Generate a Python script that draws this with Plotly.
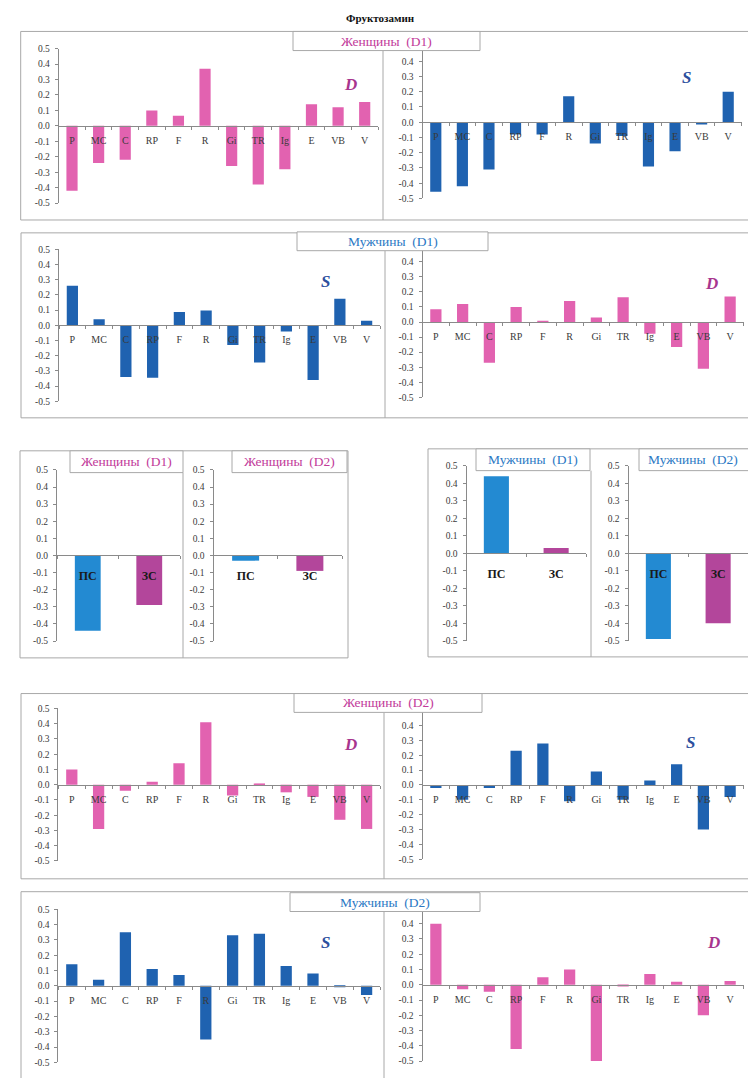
import plotly.graph_objects as go

W, H = 748, 1078

# ---- data -------------------------------------------------------------
categories = ["P", "MC", "C", "RP", "F", "R", "Gi", "TR", "Ig", "E", "VB", "V"]
groups = ["ПС", "ЗС"]

women_d1_D = [-0.42, -0.24, -0.22, 0.10, 0.065, 0.37, -0.26, -0.38, -0.28, 0.14, 0.12, 0.155]
women_d1_S = [-0.455, -0.42, -0.31, -0.08, -0.08, 0.17, -0.14, -0.09, -0.29, -0.19, -0.015, 0.20]
men_d1_S = [0.26, 0.04, -0.34, -0.345, 0.088, 0.098, -0.13, -0.245, -0.04, -0.36, 0.175, 0.03]
men_d1_D = [0.085, 0.12, -0.27, 0.10, 0.005, 0.14, 0.03, 0.165, -0.077, -0.165, -0.31, 0.17]
women_d2_D = [0.10, -0.29, -0.04, 0.02, 0.14, 0.41, -0.07, 0.005, -0.05, -0.08, -0.23, -0.29]
women_d2_S = [-0.02, -0.10, -0.02, 0.23, 0.28, -0.11, 0.09, -0.10, 0.03, 0.14, -0.30, -0.08]
men_d2_S = [0.14, 0.04, 0.35, 0.11, 0.07, -0.35, 0.33, 0.34, 0.13, 0.08, -0.01, -0.06]
men_d2_D = [0.40, -0.03, -0.045, -0.42, 0.05, 0.10, -0.51, -0.005, 0.07, 0.02, -0.20, 0.025]

women_d1_groups = [-0.44, -0.29]
women_d2_groups = [-0.03, -0.09]
men_d1_groups = [0.44, 0.03]
men_d2_groups = [-0.49, -0.40]

y_ticks = [0.5, 0.4, 0.3, 0.2, 0.1, 0.0, -0.1, -0.2, -0.3, -0.4, -0.5]
y_tick_text = ["0.5", "0.4", "0.3", "0.2", "0.1", "0.0", "-0.1", "-0.2", "-0.3", "-0.4", "-0.5"]

# ---- styling ------------------------------------------------------------
PINK = "#e262b0"
BLUE = "#1f62b0"
PS_BLUE = "#238ad2"
ZS_PURPLE = "#b3469b"
WOMEN_TXT = "#c23a9a"
MEN_TXT = "#2a78c4"
D_TXT = "#a8358e"
S_TXT = "#2c4f9e"
FRAME = "#a8a8a8"
AXIS = "#8a8a8a"
SERIF = "Liberation Serif"


def px_x(v):
    return v / W


def px_y(v):
    return 1 - v / H


# (categories, values, colours, x0, x1, y at +0.5, y at -0.5, show top tick, grouped panel)
panels = [
    (categories, women_d1_D, PINK, 58.7, 378.0, 44.0, 200.0, True, False),
    (categories, women_d1_S, BLUE, 422.5, 741.5, 41.3, 195.3, False, False),
    (categories, men_d1_S, BLUE, 59.0, 380.0, 246.7, 400.0, True, False),
    (categories, men_d1_D, PINK, 422.5, 743.5, 244.0, 396.0, False, False),
    (groups, women_d1_groups, [PS_BLUE, ZS_PURPLE], 57.0, 180.0, 469.3, 642.0, True, True),
    (groups, women_d2_groups, [PS_BLUE, ZS_PURPLE], 213.5, 342.0, 469.3, 642.0, True, True),
    (groups, men_d1_groups, [PS_BLUE, ZS_PURPLE], 466.5, 586.0, 465.0, 641.7, True, True),
    (groups, men_d2_groups, [PS_BLUE, ZS_PURPLE], 628.5, 748.0, 465.0, 641.7, True, True),
    (categories, women_d2_D, PINK, 58.4, 380.0, 710.0, 864.0, True, False),
    (categories, women_d2_S, BLUE, 422.5, 743.5, 712.3, 862.3, False, False),
    (categories, men_d2_S, BLUE, 58.4, 380.0, 912.7, 1067.3, True, False),
    (categories, men_d2_D, PINK, 422.5, 743.5, 911.9, 1066.0, False, False),
]

fig = go.Figure()
layout_axes = {}

for i, (cats, vals, col, x0, x1, yt, yb, top_tick, grouped) in enumerate(panels, start=1):
    sx = "" if i == 1 else str(i)
    fig.add_trace(go.Bar(
        x=cats, y=vals, marker=dict(color=col, line=dict(width=0)),
        xaxis="x" + sx, yaxis="y" + sx, showlegend=False,
        hoverinfo="x+y",
    ))
    d0, d1 = px_y(yb), px_y(yt)
    tv = y_ticks if top_tick else y_ticks[1:]
    tt = y_tick_text if top_tick else y_tick_text[1:]
    # category axis drawn through the zero level of the value axis
    layout_axes["xaxis" + sx] = dict(
        domain=[px_x(x0), px_x(x1)], anchor="free", position=(d0 + d1) / 2,
        type="category", showline=True, linecolor=AXIS, linewidth=1,
        ticks="outside", ticklen=3, tickcolor=AXIS, tickson="boundaries",
        showgrid=False, zeroline=False, ticklabelstandoff=9 if grouped else 5,
        tickfont=dict(family=SERIF, size=12 if grouped else 10,
                      color="#1a1a1a" if grouped else "#3a3a3a",
                      weight="bold" if grouped else "normal"),
    )
    layout_axes["yaxis" + sx] = dict(
        domain=[d0, d1], anchor="x" + sx, range=[-0.5, 0.5],
        tickvals=tv, ticktext=tt, ticks="outside", ticklen=3, tickcolor=AXIS,
        showline=True, linecolor=AXIS, linewidth=1, showgrid=False, zeroline=False,
        ticklabelstandoff=3,
        tickfont=dict(family=SERIF, size=9.5, color="#3a3a3a"),
    )

shapes = []


def frame(x0, y0, x1, y1, fill=None):
    shapes.append(dict(type="rect", xref="paper", yref="paper",
                       x0=px_x(x0), x1=px_x(x1), y0=px_y(y1), y1=px_y(y0),
                       line=dict(color=FRAME, width=1),
                       fillcolor=fill if fill else "rgba(0,0,0,0)",
                       layer="above" if fill else "below"))


def vline(x, y0, y1):
    shapes.append(dict(type="line", xref="paper", yref="paper",
                       x0=px_x(x), x1=px_x(x), y0=px_y(y1), y1=px_y(y0),
                       line=dict(color=FRAME, width=1), layer="below"))


# outer frames and dividers
frame(20.7, 26.7, 760, 217)
vline(383, 46, 217)
frame(21, 230, 760, 416.7)
vline(385, 248, 416.7)
frame(20, 450, 348, 659)
vline(183, 472, 659)
frame(428, 448, 760, 658)
vline(591, 470, 658)
frame(21, 695, 760, 882)
vline(384, 714, 882)
frame(21, 895, 760, 1100)
vline(384, 915, 1100)

annotations = []

# boxed headings
headings = [
    ("Женщины  (D1)", WOMEN_TXT, 293, 26.7, 480, 46),
    ("Мужчины  (D1)", MEN_TXT, 297, 229, 488, 248),
    ("Женщины  (D1)", WOMEN_TXT, 70, 450, 183, 472),
    ("Женщины  (D2)", WOMEN_TXT, 232, 450, 347, 472),
    ("Мужчины  (D1)", MEN_TXT, 476, 448, 590, 470),
    ("Мужчины  (D2)", MEN_TXT, 639, 448, 760, 470),
    ("Женщины  (D2)", WOMEN_TXT, 294, 695, 482, 714),
    ("Мужчины  (D2)", MEN_TXT, 290, 896, 480, 915),
]
for text, col, x0, y0, x1, y1 in headings:
    frame(x0, y0, x1, y1, fill="white")
    cx = x0 + 54 if x1 > W else (x0 + x1) / 2
    annotations.append(dict(
        text=text, x=px_x(cx), y=px_y((y0 + y1) / 2), xref="paper", yref="paper",
        showarrow=False, xanchor="center", yanchor="middle",
        font=dict(family=SERIF, size=13.5, color=col)))

# series letters inside the panels
letters = [
    ("D", D_TXT, 350, 80), ("S", S_TXT, 686.7, 72.7),
    ("S", S_TXT, 325, 279.3), ("D", D_TXT, 711.7, 281),
    ("D", D_TXT, 350, 746.7), ("S", S_TXT, 690, 744),
    ("S", S_TXT, 325, 946), ("D", D_TXT, 713.3, 946.7),
]
for t, col, x, y in letters:
    annotations.append(dict(
        text="<b><i>%s</i></b>" % t, x=px_x(x), y=px_y(y), xref="paper", yref="paper",
        showarrow=False, xanchor="center", yanchor="middle",
        font=dict(family=SERIF, size=17, color=col)))

annotations.append(dict(
    text="<b>Фруктозамин</b>", x=px_x(380), y=px_y(13), xref="paper", yref="paper",
    showarrow=False, xanchor="center", yanchor="middle",
    font=dict(family=SERIF, size=11, color="#111111")))

fig.update_layout(
    width=W, height=H, autosize=False,
    margin=dict(l=0, r=0, t=0, b=0),
    paper_bgcolor="white", plot_bgcolor="rgba(0,0,0,0)",
    bargap=0.58, showlegend=False,
    shapes=shapes, annotations=annotations,
    font=dict(family=SERIF),
    **layout_axes,
)

fig.write_html("out.html")
